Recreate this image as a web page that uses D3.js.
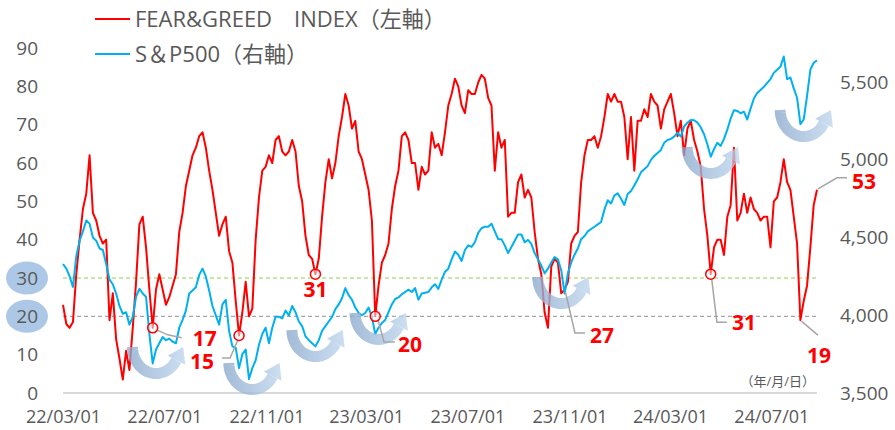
<!DOCTYPE html>
<html>
<head>
<meta charset="utf-8">
<script src="https://cdn.jsdelivr.net/npm/d3@7"></script>
<style>
  body { margin: 0; background: #fff; }
  svg text { font-family: "Open Sans", "Noto Sans CJK JP", sans-serif; }
</style>
</head>
<body>
<svg id="chart"></svg>
<script>
// sampled every 4 calendar days starting 2022/03/01
const startDate = "2022-03-01";
const stepDays = 4;

// CNN Fear & Greed index (left axis)
const fearGreed = [
  23, 18, 17, 18.5, 31, 40, 48, 52, 62, 47,
  45, 41, 39, 40, 19, 26, 14, 9, 3.5, 11,
  6, 17, 29, 44, 46, 38, 27, 17, 27, 31,
  27, 23, 25, 28, 31, 42, 47, 54, 58, 62,
  64, 67, 68, 64, 58, 53, 47, 41, 44, 46,
  37, 34, 24, 15, 21, 29, 20, 22, 40, 51,
  58, 59, 62, 60, 66, 67, 63, 62, 63, 66,
  63, 54, 50, 41, 36, 35, 31, 35, 46, 55,
  61, 56, 60, 67, 72, 78, 75, 69, 71, 63,
  61, 57, 53, 45, 20, 28, 34, 36, 39, 48,
  54, 58, 67, 68, 66, 60, 60, 53, 59, 57,
  58, 68, 64, 65, 62, 68, 75, 78, 82, 80,
  75, 73, 79, 78, 78, 81, 83, 82, 77, 75,
  58, 68, 64, 66, 46, 47, 47, 55, 57, 51,
  53, 51, 42, 35, 31, 21, 17, 33, 35, 34,
  26, 27, 29, 39, 41, 42, 55, 62, 66, 66,
  67, 64, 67, 72, 78, 76, 78, 76, 76, 72,
  61, 72, 58, 71, 71, 74, 72, 78, 76, 75,
  69, 74, 76, 78, 73, 67, 71, 62, 69, 71,
  66, 63, 59, 48, 41, 31, 38, 40, 40, 36,
  46, 49, 64, 45, 47, 52, 47, 51, 48, 47,
  45, 46, 46, 38, 50, 51, 55, 61, 55, 53,
  46, 39, 19, 24, 28, 38, 49, 53
];

// S&P 500 (right axis)
const sp500 = [
  4330, 4300, 4250, 4182, 4380, 4480, 4540, 4610, 4590, 4500,
  4480, 4430, 4420, 4330, 4230, 4200, 4140, 4060, 4010, 4020,
  3940, 3990, 4120, 4170, 4140, 4120, 3880, 3690, 3780, 3820,
  3860, 3840, 3850, 3830, 3820, 3920, 3970, 4030, 4140, 4160,
  4180, 4260, 4300, 4250, 4160, 4060, 4000, 3940, 4070, 4100,
  3900, 3800, 3790, 3660, 3750, 3780, 3590, 3660, 3710, 3810,
  3880, 3920, 3820, 3920, 3990, 3990, 3980, 4030, 4000, 4060,
  4020, 3960, 3930, 3865, 3840, 3820, 3800, 3840, 3900, 3930,
  3960, 3990, 4040, 4070, 4110, 4175, 4130, 4100, 4050, 4015,
  4000, 4015, 4050, 3990, 3880, 3920, 3950, 3970, 4020, 4070,
  4105, 4115, 4135, 4150, 4165, 4150, 4175, 4100, 4140, 4145,
  4150, 4180, 4200, 4170, 4230, 4280, 4300, 4360, 4410, 4390,
  4350, 4420, 4450, 4440, 4470, 4530, 4560, 4570, 4570, 4590,
  4540, 4490, 4490, 4450, 4400, 4440, 4480, 4520, 4520, 4470,
  4485, 4460, 4400, 4360, 4320, 4270, 4300, 4340, 4375, 4360,
  4290, 4140, 4270, 4340, 4390, 4430, 4490, 4510, 4540, 4555,
  4570, 4585, 4600, 4680, 4740, 4720, 4770, 4785, 4750, 4710,
  4780, 4800, 4835, 4875, 4920, 4940, 4960, 5000, 5025, 5045,
  5064, 5110, 5128, 5135, 5150, 5175, 5150, 5215, 5240, 5257,
  5255, 5240, 5210, 5165, 5100, 5020, 5070, 5110, 5090, 5135,
  5195, 5265, 5320, 5315, 5300, 5310, 5260, 5330, 5395, 5430,
  5450, 5470, 5495, 5520, 5560, 5580, 5600, 5665, 5520, 5530,
  5460, 5400, 5230, 5260, 5410, 5580, 5625, 5640
];

const leftTicks = [0, 10, 20, 30, 40, 50, 60, 70, 80, 90];
const rightTicks = [3500, 4000, 4500, 5000, 5500];
const dateTicks = ["2022-03-01", "2022-07-01", "2022-11-01", "2023-03-01",
                   "2023-07-01", "2023-11-01", "2024-03-01", "2024-07-01"];
const highlightLevels = [30, 20];

// sample index of each labelled fear&greed low / latest value
const calloutIdx = [27, 53, 76, 94, 151, 195, 222, 227];
// sample index + S&P level where each rebound arrow sits
const reboundIdx = [28, 57, 76, 95, 150, 195, 223];
const reboundLevel = [3796, 3693, 3905, 4015, 4246, 5083, 5321];

const legendNames = ["FEAR&GREED\u3000INDEX（左軸）", "S＆P500（右軸）"];

// ---------------------------------------------------------------
const W = 895, H = 430;
const plot = { left: 63, right: 817, top: 48, bottom: 393 };
const RED = "#ff0000", BLUE = "#00b0f0", GREY = "#595959";

const parse = d3.timeParse("%Y-%m-%d");
const fmt = d3.timeFormat("%y/%m/%d");
const dates = fearGreed.map((_, i) => d3.timeDay.offset(parse(startDate), i * stepDays));

const x = d3.scaleTime().domain(d3.extent(dates)).range([plot.left, plot.right]);
const yL = d3.scaleLinear().domain([0, 90]).range([plot.bottom, plot.top]);
const yR = d3.scaleLinear().domain([3500, 5720]).range([plot.bottom, plot.top]);

const svg = d3.select("#chart").attr("width", W).attr("height", H);
const defs = svg.append("defs");

// highlight ellipses behind 30 / 20
svg.append("g").selectAll("ellipse")
  .data(highlightLevels)
  .join("ellipse")
  .attr("cx", 27).attr("cy", d => yL(d))
  .attr("rx", 21).attr("ry", 16.5)
  .attr("fill", "#adc8e6");

// left axis
svg.append("g")
  .attr("transform", "translate(38,0)")
  .call(d3.axisLeft(yL).tickValues(leftTicks).tickSize(0).tickPadding(0))
  .call(g => g.select(".domain").remove())
  .selectAll("text")
  .attr("font-size", 19).attr("fill", GREY);

// right axis
svg.append("g")
  .attr("transform", "translate(840,0)")
  .call(d3.axisRight(yR).tickValues(rightTicks).tickSize(0).tickPadding(0).tickFormat(d3.format(",")))
  .call(g => g.select(".domain").remove())
  .selectAll("text")
  .attr("font-size", 19).attr("fill", GREY);

// bottom axis
svg.append("g")
  .attr("transform", `translate(0,${plot.bottom})`)
  .call(d3.axisBottom(x).tickValues(dateTicks.map(parse)).tickSize(0).tickPadding(17).tickFormat(fmt))
  .call(g => g.select(".domain").remove())
  .selectAll("text")
  .attr("font-size", 18).attr("fill", GREY);

svg.append("line")
  .attr("x1", plot.left).attr("x2", plot.right)
  .attr("y1", yL(0)).attr("y2", yL(0))
  .attr("stroke", "#d9d9d9").attr("stroke-width", 2);

svg.append("text")
  .attr("x", plot.right - 2).attr("y", 386)
  .attr("text-anchor", "end")
  .attr("font-size", 13).attr("fill", GREY)
  .text("（年/月/日）");

// threshold dashed lines
svg.append("g").selectAll("line")
  .data(highlightLevels)
  .join("line")
  .attr("x1", plot.left).attr("x2", plot.right)
  .attr("y1", d => yL(d)).attr("y2", d => yL(d))
  .attr("stroke", (d, i) => i === 0 ? "#92d050" : "#a6a6a6")
  .attr("stroke-width", 1.2)
  .attr("stroke-dasharray", "4,3");

// series
const lineL = d3.line().x((d, i) => x(dates[i])).y(d => yL(d));
const lineR = d3.line().x((d, i) => x(dates[i])).y(d => yR(d));

svg.append("path")
  .datum(fearGreed)
  .attr("d", lineL)
  .attr("fill", "none").attr("stroke", RED).attr("stroke-width", 2)
  .attr("stroke-linejoin", "round");

svg.append("path")
  .datum(sp500)
  .attr("d", lineR)
  .attr("fill", "none").attr("stroke", BLUE).attr("stroke-width", 2)
  .attr("stroke-linejoin", "round");

// rebound (U-turn) arrows
const arrowG = svg.append("g").attr("opacity", 0.78);
reboundIdx.forEach((idx, k) => {
  const cx = x(dates[idx]), top = yR(reboundLevel[k]);
  const w = 58, h = 32, bw = 11;
  const rx = w / 2 - bw / 2, ry = h - bw / 2;
  const arc = d3.range(180, 29, -5).map(a => {
    const t = a * Math.PI / 180;
    return [cx + rx * Math.cos(t), top + ry * Math.sin(t)];
  });
  const t = 30 * Math.PI / 180;
  const end = arc[arc.length - 1];
  let dx = rx * Math.sin(t), dy = -ry * Math.cos(t);
  const n = Math.hypot(dx, dy);
  dx /= n; dy /= n;
  const tip = [end[0] + dx * 15, end[1] + dy * 15];
  const b1 = [end[0] - dy * 10, end[1] + dx * 10];
  const b2 = [end[0] + dy * 10, end[1] - dx * 10];

  const id = "turn" + k;
  const grad = defs.append("linearGradient").attr("id", id)
    .attr("gradientUnits", "userSpaceOnUse")
    .attr("x1", cx - w / 2).attr("x2", cx + w / 2 + 6)
    .attr("y1", 0).attr("y2", 0);
  grad.append("stop").attr("offset", 0).attr("stop-color", "#8aa8cc");
  grad.append("stop").attr("offset", 1).attr("stop-color", "#c4dbf1");

  arrowG.append("path")
    .attr("d", d3.line()(arc))
    .attr("fill", "none").attr("stroke", `url(#${id})`).attr("stroke-width", bw);
  arrowG.append("path")
    .attr("d", d3.line()([b1, tip, b2]) + "Z")
    .attr("fill", `url(#${id})`);
});

// callouts: leader offsets and label offsets (px from the data point)
const calloutLayout = [
  { lead: [[4, 2], [15, 7], [29, 10]], label: [40, 18], anchor: "start", ring: true },
  { lead: [[-1, 4], [-9, 22.5], [-17, 22.5]], label: [-25, 33], anchor: "end", ring: true },
  { lead: null, label: [0, 23], anchor: "middle", ring: true },
  { lead: [[3, 4], [8.7, 25.7], [19.7, 25.7]], label: [22.7, 35.7], anchor: "start", ring: true },
  { lead: [[1, 3], [10.4, 43.5], [20.4, 43.5]], label: [25.4, 53.5], anchor: "start", ring: false },
  { lead: [[1, 5], [6.2, 48], [16.2, 48]], label: [21.2, 56], anchor: "start", ring: true },
  { lead: [[1, 1], [17.5, 15]], label: [6.5, 42.8], anchor: "start", ring: false },
  { lead: [[1, -1], [20, -12], [30, -12]], label: [35, -1], anchor: "start", ring: false }
];

const cg = svg.append("g");
calloutIdx.forEach((idx, k) => {
  const px = x(dates[idx]), py = yL(fearGreed[idx]);
  const lay = calloutLayout[k];
  if (lay.lead) {
    cg.append("path")
      .attr("d", d3.line()(lay.lead.map(p => [px + p[0], py + p[1]])))
      .attr("fill", "none").attr("stroke", "#a6a6a6").attr("stroke-width", 1.5);
  }
  if (lay.ring) {
    cg.append("circle")
      .attr("cx", px).attr("cy", py).attr("r", 5)
      .attr("fill", "#fff").attr("fill-opacity", 0.5)
      .attr("stroke", RED).attr("stroke-width", 1.5);
  }
  cg.append("text")
    .attr("x", px + lay.label[0]).attr("y", py + lay.label[1])
    .attr("text-anchor", lay.anchor)
    .attr("font-size", 21).attr("font-weight", "bold").attr("fill", RED)
    .text(fearGreed[idx]);
});

// legend
const legend = svg.append("g");
legendNames.forEach((name, i) => {
  const ly = 19 + i * 35;
  legend.append("line")
    .attr("x1", 95).attr("x2", 130).attr("y1", ly).attr("y2", ly)
    .attr("stroke", i === 0 ? RED : BLUE).attr("stroke-width", 2);
  legend.append("text")
    .attr("x", 135).attr("y", ly).attr("dy", "0.36em")
    .attr("font-size", 22).attr("fill", GREY)
    .text(name);
});
</script>
</body>
</html>
